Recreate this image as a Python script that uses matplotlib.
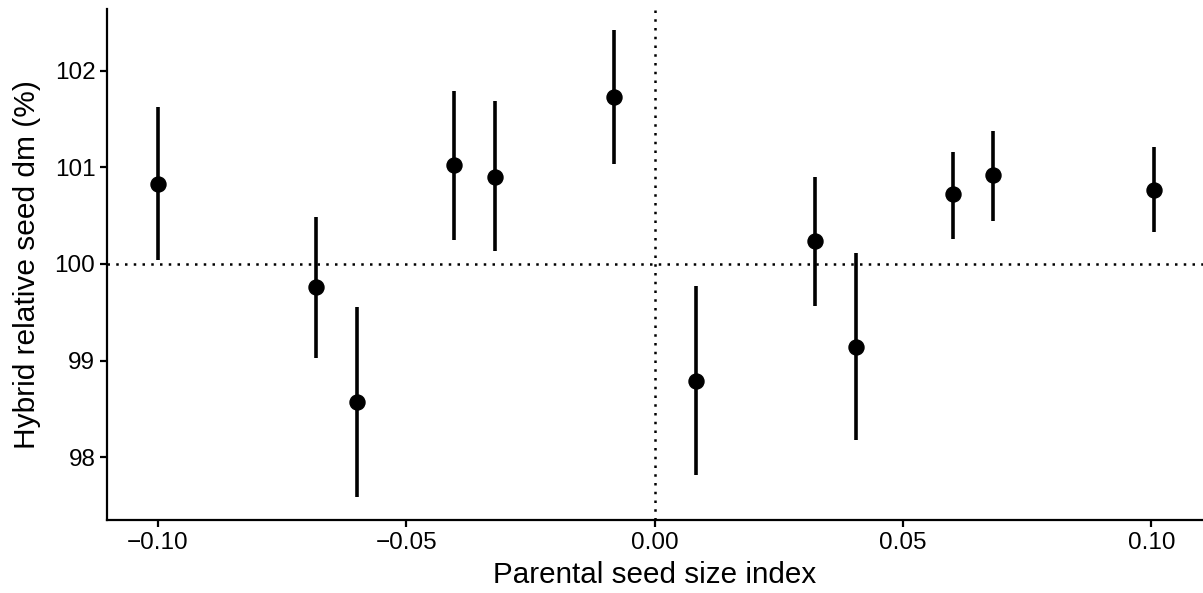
import matplotlib
matplotlib.use("Agg")
from matplotlib import pyplot as plt

plt.rcParams['font.family'] = ['Liberation Sans', 'DejaVu Sans']

# dane
indeks = [-0.1000, -0.0681, -0.0598, -0.0404, -0.0322, -0.0081,
          0.0083, 0.0322, 0.0405, 0.0601, 0.0682, 0.1005]
srednia = [100.83, 99.76, 98.57, 101.02, 100.905, 101.73,
           98.79, 100.235, 99.14, 100.72, 100.92, 100.77]
dolna = [100.04, 99.03, 97.59, 100.25, 100.13, 101.04,
         97.82, 99.57, 98.18, 100.26, 100.45, 100.33]
gorna = [101.62, 100.49, 99.56, 101.79, 101.69, 102.42,
         99.77, 100.905, 100.11, 101.16, 101.38, 101.21]

y_ticks = [98, 99, 100, 101, 102]
x_ticks = [-0.10, -0.05, 0.00, 0.05, 0.10]
x_labels = ['\u22120.10', '\u22120.05', '0.00', '0.05', '0.10']

fig = plt.figure(figsize=(12.03, 5.93), dpi=100)
ax = fig.add_axes([0.089, 0.123, 0.911, 0.862])

ax.axhline(100, color='black', lw=1.8, ls=(0, (1, 2.5)), zorder=1)
ax.axvline(0, color='black', lw=1.8, ls=(0, (1, 2.5)), zorder=1)

ax.vlines(indeks, dolna, gorna, color='black', lw=2.6, zorder=2)
ax.plot(indeks, srednia, 'o', color='black', markersize=10.8, zorder=3)

ax.set_xlim(-0.1102, 0.1104)
ax.set_ylim(97.35, 102.64)
ax.set_xticks(x_ticks)
ax.set_xticklabels(x_labels)
ax.set_yticks(y_ticks)

for s in ['top', 'right']:
    ax.spines[s].set_visible(False)
for s in ['left', 'bottom']:
    ax.spines[s].set_linewidth(1.6)

ax.tick_params(axis='both', labelsize=17.5, width=1.6, length=5, colors='black')
ax.set_xlabel("Parental seed size index", fontsize=21.3, labelpad=5)
ax.set_ylabel("Hybrid relative seed dm (%)", fontsize=21.5, labelpad=10)

plt.savefig('out.png')
